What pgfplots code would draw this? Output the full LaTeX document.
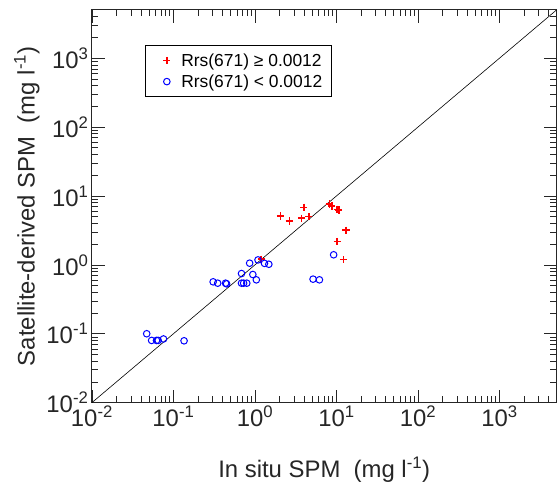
\documentclass[border=0pt]{standalone}
\usepackage{pgfplots}
\pgfplotsset{compat=1.18}
\usepackage{fontspec}
\setmainfont{Liberation Sans}
\usetikzlibrary{calc}
\definecolor{axgray}{RGB}{38,38,38}
\pgfplotsset{mylegimg/.style={legend image code/.code={\draw[##1] plot coordinates {(12bp,0bp)}; \path (-6bp,0bp) (20bp,0bp);}}}
\begin{document}
\begin{tikzpicture}
\begin{axis}[
  xmode=log, ymode=log,
  scale only axis, width=465bp, height=393bp,
  xmin=0.01, xmax=5000, ymin=0.01, ymax=5000,
  xtick={0.01,0.1,1,10,100,1000},
  xticklabels={10\textsuperscript{-2},10\textsuperscript{-1},10\textsuperscript{0},10\textsuperscript{1},10\textsuperscript{2},10\textsuperscript{3}},
  ytick={0.01,0.1,1,10,100,1000},
  yticklabels={10\textsuperscript{-2},10\textsuperscript{-1},10\textsuperscript{0},10\textsuperscript{1},10\textsuperscript{2},10\textsuperscript{3}},
  minor xtick={0.02,0.03,0.04,0.05,0.06,0.07,0.08,0.09,0.2,0.3,0.4,0.5,0.6,0.7,0.8,0.9,2,3,4,5,6,7,8,9,20,30,40,50,60,70,80,90,200,300,400,500,600,700,800,900,2000,3000,4000},
  minor ytick={0.02,0.03,0.04,0.05,0.06,0.07,0.08,0.09,0.2,0.3,0.4,0.5,0.6,0.7,0.8,0.9,2,3,4,5,6,7,8,9,20,30,40,50,60,70,80,90,200,300,400,500,600,700,800,900,2000,3000,4000},
  major tick length=13bp, minor tick length=6.5bp,
  tick style={axgray, line width=0.6bp},
  axis line style={axgray, line width=1bp},
  tick align=inside,
  ticklabel style={font=\fontsize{24}{28}\selectfont, text=axgray},
  xlabel={In situ SPM\ \ (mg l\textsuperscript{-1})},
  ylabel={Satellite-derived SPM\ \ (mg l\textsuperscript{-1})},
  label style={font=\fontsize{24}{28}\selectfont, text=axgray},
  xlabel style={yshift=-23bp},
  legend style={at={(axis description cs:0.114,0.911)}, anchor=north west,
    draw=black, line width=1bp, fill=white,
    font=\fontsize{17.5}{21}\selectfont, inner xsep=3bp, inner ysep=7bp,
    nodes={inner xsep=6bp, inner ysep=1bp},
    row sep=5bp, column sep=0bp},
  legend cell align=left,
  clip=true,
]
\addplot[black, line width=0.6bp, forget plot] coordinates {(0.01,0.01) (5000,5000)};
\addplot[only marks, draw=red, mark=+, mark size=3.6bp, mark options={draw=red, line width=1.5bp}, mylegimg] coordinates {
(2.06,5.1)(2.64,4.34)(3.98,6.85)(3.75,4.75)(4.58,5.0)(8.19,7.66)(8.78,7.16)(10.2,6.4)(10.7,6.27)(13.1,3.18)(10.2,2.18)(12.2,1.19)(1.19,1.21)
};
\addlegendentry{Rrs(671) ≥ 0.0012}
\addplot[only marks, draw=blue, mark=o, mark size=3.3bp, mark options={draw=blue, line width=1bp}, mylegimg] coordinates {
(0.047,0.1)(0.054,0.080)(0.062,0.080)(0.065,0.080)(0.0755,0.084)(0.135,0.079)(0.307,0.567)(0.349,0.542)(0.436,0.542)(0.449,0.53)(0.684,0.748)(0.684,0.542)(0.726,0.542)(0.794,0.542)(0.861,1.057)(0.942,0.724)(1.04,0.606)(1.09,1.18)(1.31,1.05)(1.48,1.02)(5.16,0.62)(6.18,0.606)(9.23,1.40)
};
\addlegendentry{Rrs(671) < 0.0012}
\end{axis}
\pgfresetboundingbox
\path ($(current axis.south west)+(-92bp,-84bp)$) rectangle ($(current axis.north east)+(0.5bp,10bp)$);
\end{tikzpicture}
\end{document}
